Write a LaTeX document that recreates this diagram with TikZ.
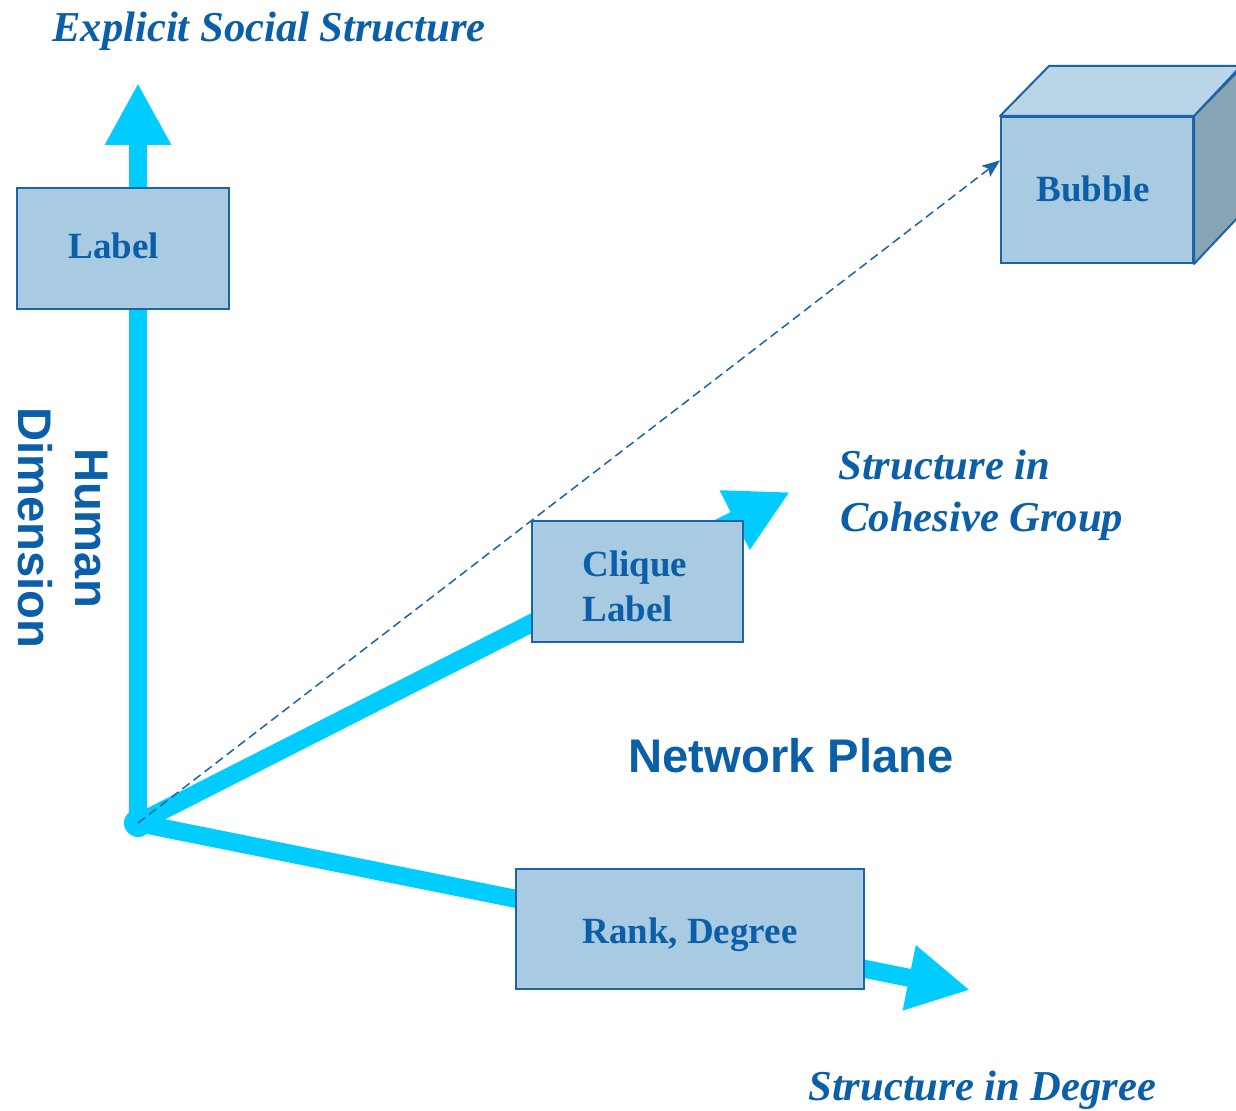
\documentclass[tikz,border=0pt]{standalone}
\usepackage{fontspec}
\setmainfont{Liberation Serif}
\setsansfont{Liberation Sans}
\usetikzlibrary{arrows.meta,calc}
\definecolor{cyanarr}{HTML}{00CCFF}
\definecolor{txtblue}{HTML}{0B5EA8}
\definecolor{boxfill}{HTML}{A8CBE2}
\definecolor{boxline}{HTML}{1C63A8}
\definecolor{cubetop}{HTML}{B9D5E7}
\definecolor{cubeside}{HTML}{87A4B4}
\begin{document}
\begin{tikzpicture}[x=0.5pt,y=-0.5pt,
  axisarrow/.style={line width=9pt, draw=cyanarr, -{Triangle[length=31pt,width=31pt]}},
  box/.style={draw=boxline, line width=1pt, fill=boxfill, rectangle, inner sep=0pt},
  boxtext/.style={font=\fontsize{18.5}{22}\selectfont\bfseries, text=txtblue, inner sep=0pt, anchor=base west, align=left},
  ital/.style={font=\fontsize{21.3}{25.5}\selectfont\bfseries\itshape, text=txtblue, inner sep=0pt, anchor=base west, align=left},
  sanst/.style={font=\fontsize{23.6}{28.5}\selectfont\sffamily\bfseries, text=txtblue, inner sep=0pt},
  dasharrow/.style={draw=boxline, line width=0.75pt, dash pattern=on 4.5pt off 2.5pt, -{Stealth[length=9pt,width=7pt,inset=2pt]}}
]
\useasboundingbox (0,0) rectangle (1236,1111);

% coordinates
\coordinate (O) at (138,823);
\coordinate (vtip) at (138,83);
\coordinate (ctip) at (790,492);
\coordinate (rtip) at (970,990);

% axes
\draw[axisarrow] (O) -- (vtip);
\draw[axisarrow] (O) -- (ctip);
\draw[axisarrow] (O) -- (rtip);
\fill[cyanarr] (O) circle (7pt);

% cube (Bubble)
\node[box, minimum width=96pt, minimum height=73pt] (bub) at (1097,190) {};
\fill[cubetop, draw=boxline, line width=1pt, line join=round]
  (bub.north west) -- ++(49,-50) -- ++(192,0) -- (bub.north east) -- cycle;
\fill[cubeside, draw=boxline, line width=1pt, line join=round]
  (bub.north east) -- ++(49,-50) -- ++(0,146) -- (bub.south east) -- cycle;
\node[boxtext] (bubt) at (1036,202) {Bubble};

% dashed arrow
\coordinate (btip) at ($(bub.north west)!0.3!(bub.south west)$);
\draw[dasharrow] (O) -- (btip);

% boxes
\node[box, minimum width=106pt, minimum height=60.5pt] (lab) at (123,248.5) {};
\node[boxtext] (labt) at (68,259) {Label};

\node[box, minimum width=105.5pt, minimum height=60.5pt] (cliq) at (637.5,581.5) {};
\node[boxtext] (cliqt1) at (582,577) {Clique};
\node[boxtext] (cliqt2) at (582,622) {Label};

\node[box, minimum width=174pt, minimum height=60pt] (rank) at (690,929) {};
\node[boxtext] (rankt) at (582,943) {Rank, Degree};

% texts
\node[ital] (ess) at (52,42) {Explicit Social Structure};
\node[ital] (sic1) at (838,480) {Structure in};
\node[ital] (sic2) at (840,532) {Cohesive Group};
\node[ital] (sid) at (808,1100) {Structure in Degree};
\node[sanst, anchor=base west] (np) at (628,772) {Network Plane};
\node[sanst, rotate=-90, align=center] (hd) at (63,528) {Human\\Dimension};
\end{tikzpicture}
\end{document}
